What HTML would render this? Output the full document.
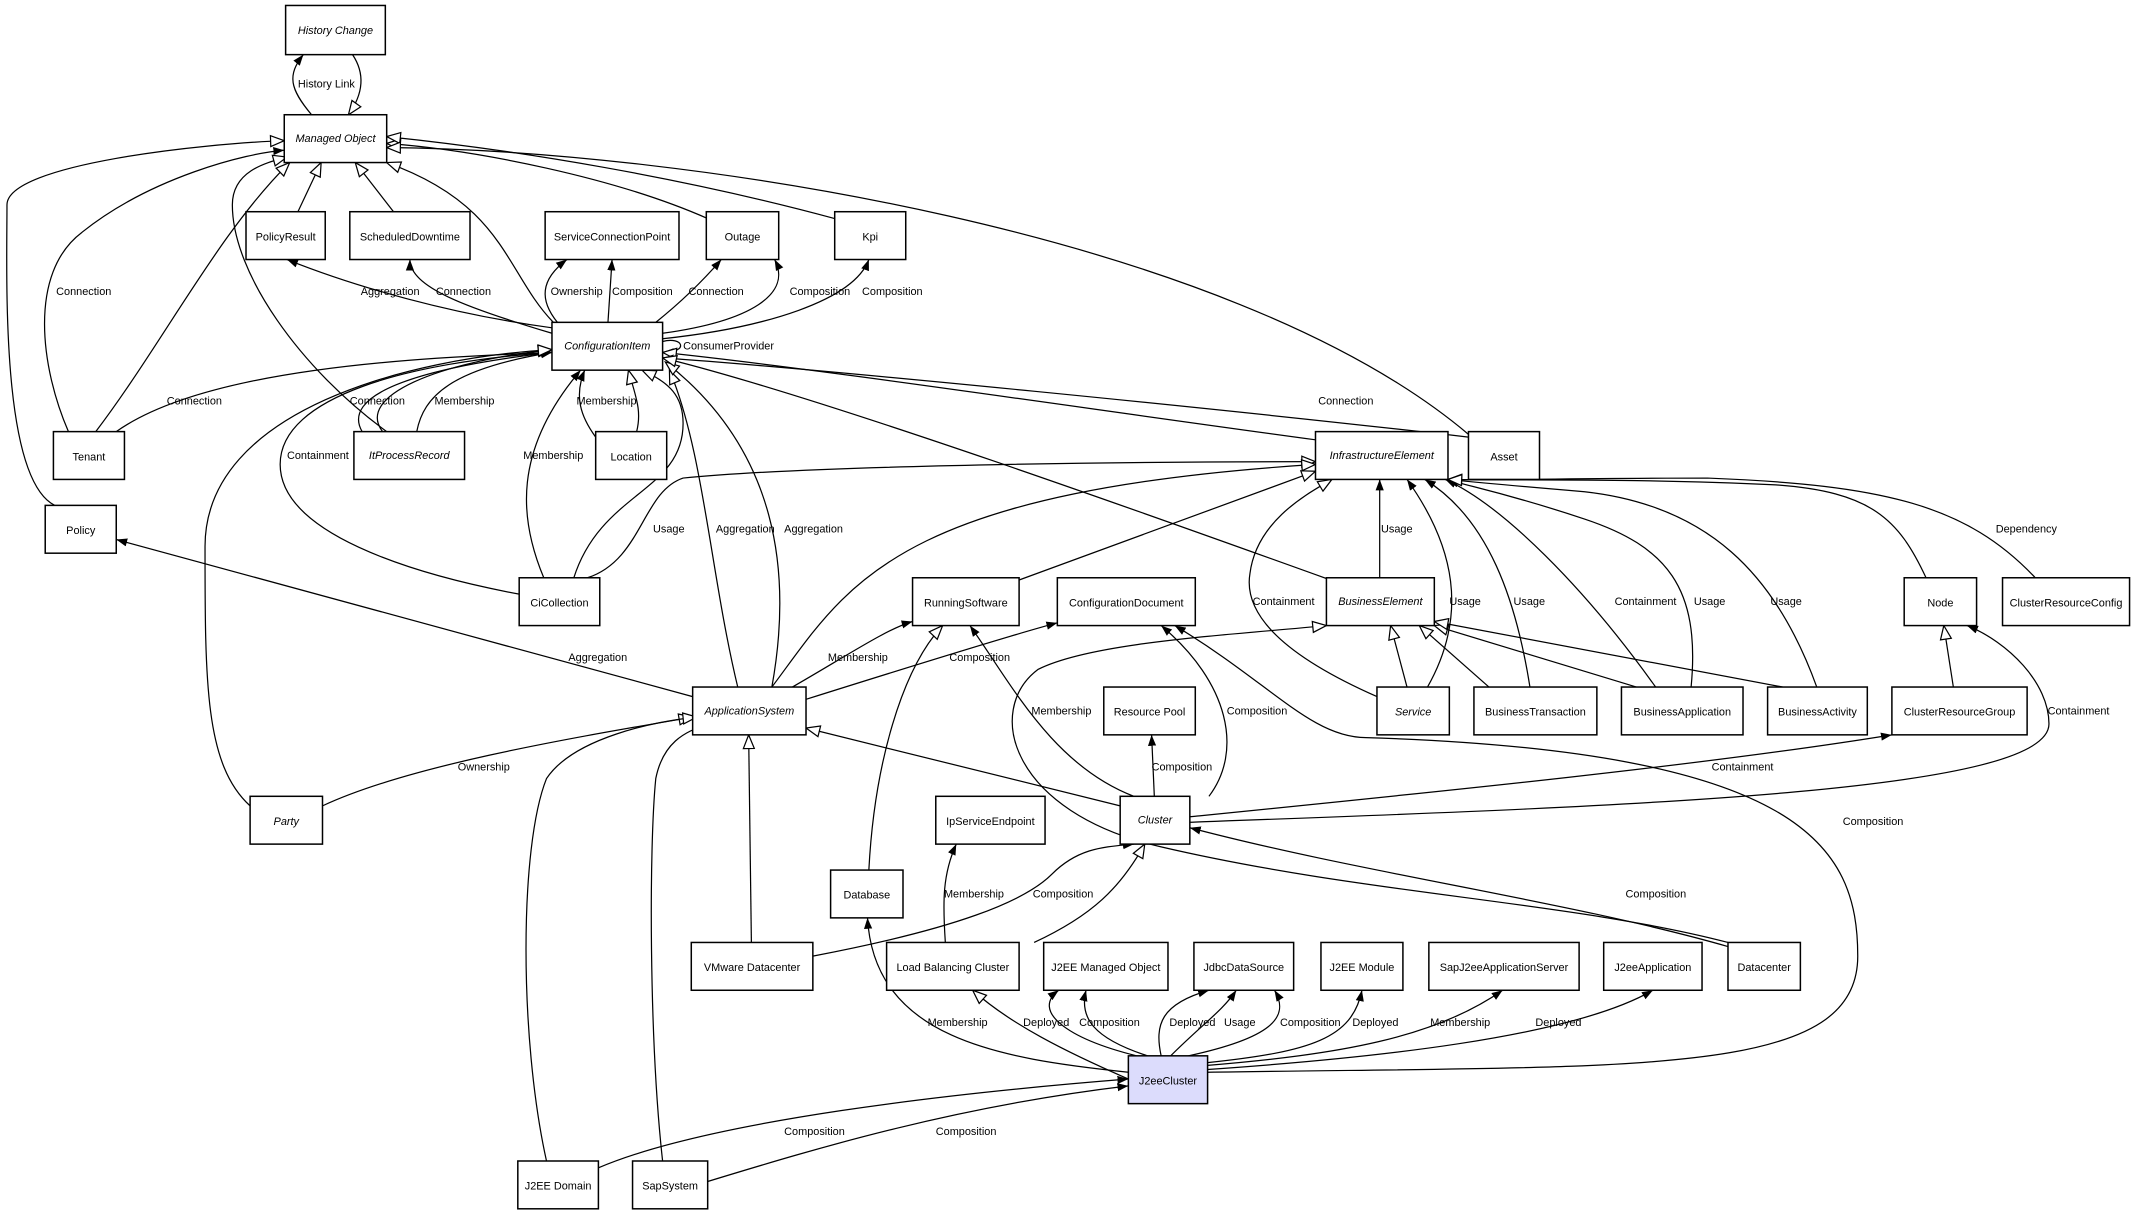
<!DOCTYPE html>
<html><head><meta charset="utf-8"><style>
html,body{margin:0;padding:0;background:#fff;}
svg{display:block;}
text{font-family:"Liberation Sans",sans-serif;font-size:8px;fill:#000;}
.n{fill:#fff;stroke:#000;stroke-width:1.1;}
.e{fill:none;stroke:#000;stroke-width:0.9;}
.t{marker-end:url(#tri);}
.a{marker-end:url(#arr);}
.i{font-style:italic;}
</style></head><body>
<svg width="2142" height="1217" viewBox="0 0 1568 891" xmlns="http://www.w3.org/2000/svg">
<defs>
<marker id="tri" markerUnits="userSpaceOnUse" markerWidth="12" markerHeight="10" refX="11" refY="5" orient="auto"><path d="M1,1 L11,5 L1,9 Z" fill="#fff" stroke="#000" stroke-width="0.9"/></marker>
<marker id="arr" markerUnits="userSpaceOnUse" markerWidth="9" markerHeight="7" refX="8" refY="3.5" orient="auto"><path d="M0,0.5 L8,3.5 L0,6.5 Z" fill="#000"/></marker>
</defs>

<g>
<path class="e a" d="M228,84 C212,65 210,55 222,40"/>
<path class="e t" d="M258,40 C268,55 265,70 255,84"/>
<path class="e t" d="M218,155 L235,119"/>
<path class="e t" d="M288,155 L260,119"/>
<path class="e t" d="M405,236 C370,200 370,150 283,119"/>
<path class="e t" d="M518,160 C450,130 350,110 283,105"/>
<path class="e t" d="M611,160 C500,130 380,110 283,100"/>
<path class="e t" d="M1075,318 C900,170 500,110 283,108"/>
<path class="e t" d="M40,370 C0,350 5,200 5,150 C5,120 150,105 208,103"/>
<path class="e a" d="M50,316 C30,270 20,200 60,170 C110,130 180,112 208,110"/>
<path class="e t" d="M70,316 C120,250 160,170 212,119"/>
<path class="e t" d="M283,316 C220,270 170,200 170,150 C170,125 195,119 210,115"/>

<path class="e a" d="M404,240 C330,230 260,210 210,190"/>
<path class="e a" d="M404,244 C340,225 300,210 300,190"/>
<path class="e a" d="M408,236 C395,220 395,205 415,190"/>
<path class="e a" d="M445,236 L448,190"/>
<path class="e a" d="M480,236 C500,220 515,205 528,190"/>
<path class="e a" d="M485,244 C550,235 580,215 567,190"/>
<path class="e a" d="M485,248 C560,240 625,220 636,190"/>
<path class="e a" d="M485,250 C500,246 505,258 485,258"/>

<path class="e a" d="M85,316 C150,270 300,262 404,258"/>
<path class="e a" d="M265,316 C250,290 300,270 404,258"/>
<path class="e a" d="M305,316 C310,290 330,270 404,258"/>
<path class="e t" d="M280,316 C260,290 320,265 404,256"/>
<path class="e a" d="M380,435 C300,420 205,390 205,340 C205,290 300,265 404,258"/>
<path class="e t" d="M183,590 C150,560 150,500 150,400 C150,300 300,262 404,256"/>
<path class="e a" d="M436,320 C425,305 420,290 428,271"/>
<path class="e t" d="M466,316 C470,300 465,290 460,271"/>
<path class="e a" d="M398,423 C380,380 375,330 425,271"/>
<path class="e t" d="M420,423 C440,360 500,360 500,310 C500,290 490,280 470,271"/>
<path class="e t" d="M540,503 C520,420 515,330 490,271"/>
<path class="e t" d="M565,503 C580,420 570,330 487,265"/>
<path class="e t" d="M963,322 C800,300 600,270 485,258"/>
<path class="e a" d="M1075,320 C900,300 600,270 485,262"/>
<path class="e t" d="M975,425 C850,380 600,290 485,262"/>

<path class="e t" d="M430,423 C470,410 470,360 500,350 C600,340 850,338 963,338"/>
<path class="e t" d="M565,503 C620,430 650,360 963,340"/>
<path class="e t" d="M745,425 L963,345"/>
<path class="e a" d="M1010,423 L1010,351"/>
<path class="e t" d="M1008,510 C940,480 910,450 915,420 C920,380 960,360 975,351"/>
<path class="e a" d="M1045,503 C1075,450 1065,400 1030,351"/>
<path class="e a" d="M1120,503 C1110,440 1090,380 1043,351"/>
<path class="e a" d="M1212,503 C1160,430 1100,370 1058,351"/>
<path class="e a" d="M1238,503 C1245,430 1220,400 1160,380 C1100,360 1070,355 1060,351"/>
<path class="e a" d="M1330,503 C1300,420 1250,370 1160,360 C1100,355 1070,352 1060,351"/>
<path class="e t" d="M1410,423 C1390,380 1370,360 1300,355 C1200,350 1100,352 1060,351"/>
<path class="e t" d="M1490,423 C1440,370 1380,355 1250,350 C1150,350 1080,352 1060,351"/>

<path class="e t" d="M1030,503 L1018,458"/>
<path class="e t" d="M1090,503 L1039,458"/>
<path class="e t" d="M1198,503 L1050,458"/>
<path class="e t" d="M1305,503 L1050,455"/>
<path class="e t" d="M1430,503 L1423,458"/>

<path class="e a" d="M507,510 L85,395"/>
<path class="e a" d="M580,503 C620,480 650,460 668,455"/>
<path class="e a" d="M590,512 C660,490 740,465 774,456"/>
<path class="e t" d="M236,590 C300,560 420,540 507,525"/>
<path class="e t" d="M820,590 L590,533"/>
<path class="e t" d="M550,690 L548,538"/>
<path class="e t" d="M400,850 C380,760 380,620 400,570 C420,540 480,528 510,525"/>
<path class="e t" d="M485,850 C475,760 475,620 480,570 C485,545 500,535 520,530"/>
<path class="e t" d="M636,637 C640,560 660,490 690,458"/>
<path class="e a" d="M830,583 C770,560 740,500 710,458"/>
<path class="e a" d="M885,583 C910,550 900,500 850,458"/>
<path class="e a" d="M845,583 L843,538"/>
<path class="e a" d="M871,598 C1050,580 1250,560 1385,538"/>
<path class="e a" d="M871,602 C1200,590 1500,580 1500,530 C1500,500 1470,470 1440,458"/>
<path class="e a" d="M1265,693 C1150,660 1000,640 871,606"/>
<path class="e t" d="M1265,690 C1150,660 1000,655 850,620 C740,595 720,520 760,490 C800,470 900,465 971,458"/>
<path class="e a" d="M884,785 C1200,780 1360,790 1360,700 C1360,620 1320,550 1000,540 C960,540 930,500 860,458"/>
<path class="e a" d="M595,700 C700,680 750,660 770,640 C790,620 810,620 830,618"/>
<path class="e a" d="M692,690 C690,660 690,640 700,618"/>
<path class="e t" d="M757,690 C800,670 820,650 838,618"/>

<path class="e a" d="M826,785 C730,775 640,760 635,672"/>
<path class="e t" d="M826,790 C780,770 740,750 712,725"/>
<path class="e a" d="M832,773 C780,760 755,740 775,725"/>
<path class="e a" d="M840,773 C800,760 790,745 795,725"/>
<path class="e a" d="M850,773 C845,750 850,735 885,725"/>
<path class="e a" d="M857,773 C880,750 895,740 905,725"/>
<path class="e a" d="M870,773 C930,760 945,745 933,725"/>
<path class="e a" d="M884,778 C960,770 990,760 997,725"/>
<path class="e a" d="M884,780 C980,772 1050,760 1100,725"/>
<path class="e a" d="M884,783 C1000,775 1150,760 1210,725"/>
<path class="e a" d="M438,855 C520,820 700,800 826,790"/>
<path class="e a" d="M518,865 C600,840 700,810 826,795"/>
</g>

<g>
<text x="218" y="64">History Link</text>
<text x="41" y="216">Connection</text>
<text x="264" y="216">Aggregation</text>
<text x="319" y="216">Connection</text>
<text x="403" y="216">Ownership</text>
<text x="448" y="216">Composition</text>
<text x="504" y="216">Connection</text>
<text x="578" y="216">Composition</text>
<text x="631" y="216">Composition</text>
<text x="500" y="256">ConsumerProvider</text>
<text x="122" y="296">Connection</text>
<text x="256" y="296">Connection</text>
<text x="318" y="296">Membership</text>
<text x="422" y="296">Membership</text>
<text x="965" y="296">Connection</text>
<text x="210" y="336">Containment</text>
<text x="383" y="336">Membership</text>
<text x="478" y="390">Usage</text>
<text x="524" y="390">Aggregation</text>
<text x="574" y="390">Aggregation</text>
<text x="1011" y="390">Usage</text>
<text x="1461" y="390">Dependency</text>
<text x="917" y="443">Containment</text>
<text x="1061" y="443">Usage</text>
<text x="1108" y="443">Usage</text>
<text x="1182" y="443">Containment</text>
<text x="1240" y="443">Usage</text>
<text x="1296" y="443">Usage</text>
<text x="416" y="484">Aggregation</text>
<text x="606" y="484">Membership</text>
<text x="695" y="484">Composition</text>
<text x="755" y="523">Membership</text>
<text x="898" y="523">Composition</text>
<text x="1499" y="523">Containment</text>
<text x="335" y="564">Ownership</text>
<text x="843" y="564">Composition</text>
<text x="1253" y="564">Containment</text>
<text x="1349" y="604">Composition</text>
<text x="756" y="657">Composition</text>
<text x="691" y="657">Membership</text>
<text x="1190" y="657">Composition</text>
<text x="679" y="751">Membership</text>
<text x="749" y="751">Deployed</text>
<text x="790" y="751">Composition</text>
<text x="856" y="751">Deployed</text>
<text x="896" y="751">Usage</text>
<text x="937" y="751">Composition</text>
<text x="990" y="751">Deployed</text>
<text x="1047" y="751">Membership</text>
<text x="1124" y="751">Deployed</text>
<text x="574" y="831">Composition</text>
<text x="685" y="831">Composition</text>
</g>

<g text-anchor="middle">
<rect class="n" x="209" y="4" width="73" height="36"/><text class="i" x="245.5" y="25">History Change</text>
<rect class="n" x="208" y="84" width="75" height="35"/><text class="i" x="245.5" y="104">Managed Object</text>
<rect class="n" x="180" y="155" width="58" height="35"/><text x="209" y="176">PolicyResult</text>
<rect class="n" x="256" y="155" width="88" height="35"/><text x="300" y="176">ScheduledDowntime</text>
<rect class="n" x="399" y="155" width="98" height="35"/><text x="448" y="176">ServiceConnectionPoint</text>
<rect class="n" x="517" y="155" width="53" height="35"/><text x="543.5" y="176">Outage</text>
<rect class="n" x="611" y="155" width="52" height="35"/><text x="637" y="176">Kpi</text>
<rect class="n" x="404" y="236" width="81" height="35"/><text class="i" x="444.5" y="256">ConfigurationItem</text>
<rect class="n" x="39" y="316" width="52" height="35"/><text x="65" y="337">Tenant</text>
<rect class="n" x="259" y="316" width="81" height="35"/><text class="i" x="299.5" y="336">ItProcessRecord</text>
<rect class="n" x="436" y="316" width="52" height="35"/><text x="462" y="337">Location</text>
<rect class="n" x="963" y="316" width="97" height="35"/><text class="i" x="1011.5" y="336">InfrastructureElement</text>
<rect class="n" x="1075" y="316" width="52" height="35"/><text x="1101" y="337">Asset</text>
<rect class="n" x="33" y="370" width="52" height="35"/><text x="59" y="391">Policy</text>
<rect class="n" x="380" y="423" width="59" height="35"/><text x="409.5" y="444">CiCollection</text>
<rect class="n" x="668" y="423" width="78" height="35"/><text x="707" y="444">RunningSoftware</text>
<rect class="n" x="774" y="423" width="101" height="35"/><text x="824.5" y="444">ConfigurationDocument</text>
<rect class="n" x="971" y="423" width="79" height="35"/><text class="i" x="1010.5" y="443">BusinessElement</text>
<rect class="n" x="1394" y="423" width="53" height="35"/><text x="1420.5" y="444">Node</text>
<rect class="n" x="1466" y="423" width="93" height="35"/><text x="1512.5" y="444">ClusterResourceConfig</text>
<rect class="n" x="507" y="503" width="83" height="35"/><text class="i" x="548.5" y="523">ApplicationSystem</text>
<rect class="n" x="808" y="503" width="67" height="35"/><text x="841.5" y="524">Resource Pool</text>
<rect class="n" x="1008" y="503" width="53" height="35"/><text class="i" x="1034.5" y="524">Service</text>
<rect class="n" x="1079" y="503" width="90" height="35"/><text x="1124" y="524">BusinessTransaction</text>
<rect class="n" x="1187" y="503" width="89" height="35"/><text x="1231.5" y="524">BusinessApplication</text>
<rect class="n" x="1294" y="503" width="73" height="35"/><text x="1330.5" y="524">BusinessActivity</text>
<rect class="n" x="1385" y="503" width="99" height="35"/><text x="1434.5" y="524">ClusterResourceGroup</text>
<rect class="n" x="183" y="583" width="53" height="35"/><text class="i" x="209.5" y="604">Party</text>
<rect class="n" x="685" y="583" width="80" height="35"/><text x="725" y="604">IpServiceEndpoint</text>
<rect class="n" x="820" y="583" width="51" height="35"/><text class="i" x="845.5" y="603">Cluster</text>
<rect class="n" x="608" y="637" width="53" height="35"/><text x="634.5" y="658">Database</text>
<rect class="n" x="506" y="690" width="89" height="35"/><text x="550.5" y="711">VMware Datacenter</text>
<rect class="n" x="649" y="690" width="97" height="35"/><text x="697.5" y="711">Load Balancing Cluster</text>
<rect class="n" x="764" y="690" width="91" height="35"/><text x="809.5" y="711">J2EE Managed Object</text>
<rect class="n" x="874" y="690" width="73" height="35"/><text x="910.5" y="711">JdbcDataSource</text>
<rect class="n" x="967" y="690" width="60" height="35"/><text x="997" y="711">J2EE Module</text>
<rect class="n" x="1046" y="690" width="110" height="35"/><text x="1101" y="711">SapJ2eeApplicationServer</text>
<rect class="n" x="1174" y="690" width="72" height="35"/><text x="1210" y="711">J2eeApplication</text>
<rect class="n" x="1265" y="690" width="53" height="35"/><text x="1291.5" y="711">Datacenter</text>
<rect class="n" x="826" y="773" width="58" height="35" style="fill:#dcdcfc"/><text x="855" y="794">J2eeCluster</text>
<rect class="n" x="379" y="850" width="59" height="35"/><text x="408.5" y="871">J2EE Domain</text>
<rect class="n" x="463" y="850" width="55" height="35"/><text x="490.5" y="871">SapSystem</text>
</g>
</svg>
</body></html>
